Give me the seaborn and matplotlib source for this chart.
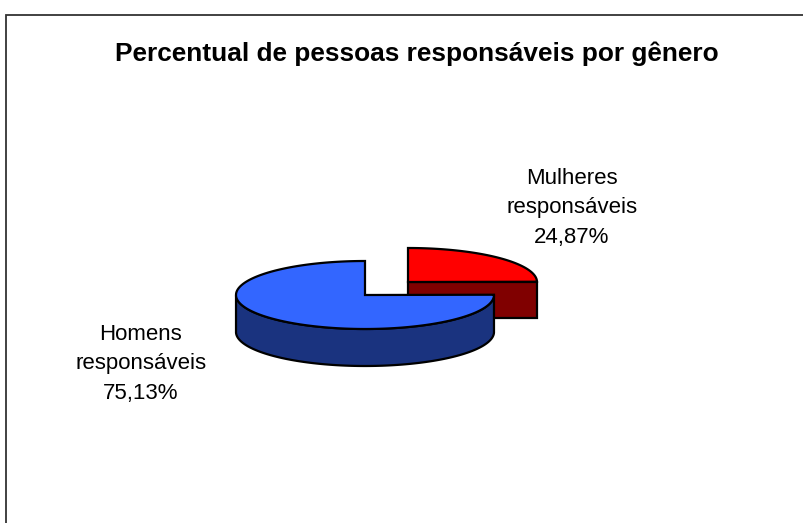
# pseudo 3D pie of responsible people by gender
import numpy as np
import seaborn as sns
import matplotlib.pyplot as plt

# data
categories = ['Mulheres\nresponsáveis', 'Homens\nresponsáveis']
percent = [24.87, 75.13]
value_labels = ['24,87%', '75,13%']
title = 'Percentual de pessoas responsáveis por gênero'

sns.set_theme(style='white')
plt.rcParams['font.family'] = ['Liberation Sans', 'DejaVu Sans']

top_colors = ['#FF0000', '#3366FF']
side_colors = ['#800000', '#1A337F']

fig = plt.figure(figsize=(8.04, 5.23), dpi=100, facecolor='white')
# the axes is the whole figure, in pixels
ax = fig.add_axes([0, 0, 1, 1])
ax.set_xlim(0, 804)
ax.set_ylim(523, 0)
ax.axis('off')

rx, ry, depth = 129, 34, 37
centers = [(408, 282), (365, 295)]


# points of a slice rim, angles in degrees, y of the picture goes down
def rim(cx, cy, start, sweep):
    t = np.radians(np.linspace(start, start - sweep, 200))
    return cx + rx * np.cos(t), cy - ry * np.sin(t)


def draw_outline(x, y, color):
    ax.fill(x, y, facecolor=color, edgecolor='black', linewidth=1.6, joinstyle='miter')


# slices start at twelve o'clock and go clockwise
sweeps = [p / sum(percent) * 360 for p in percent]
red_sweep, blue_sweep = sweeps
blue_start = 90 - red_sweep

# red slice: the flat cut face in front, then the top
cx, cy = centers[0]
x, y = rim(cx, cy, 90, red_sweep)
right = x[-1]
draw_outline([cx, right, right, cx], [cy, cy, cy + depth - 1, cy + depth - 1], side_colors[0])
draw_outline(np.r_[cx, x], np.r_[cy, y], top_colors[0])

# blue slice: the wall of the lower half, then the top
cx, cy = centers[1]
x, y = rim(cx, cy, blue_start, blue_sweep)
low = np.sin(np.radians(np.linspace(blue_start, blue_start - blue_sweep, 200))) <= 0.0
low_x, low_y = x[low], y[low]
draw_outline(np.r_[low_x, low_x[::-1]], np.r_[low_y, low_y[::-1] + depth], side_colors[1])
draw_outline(np.r_[cx, x], np.r_[cy, y], top_colors[1])

# labels
ax.text(572, 208, categories[0] + '\n' + value_labels[0], ha='center', va='center',
        fontsize=16, color='black', linespacing=1.53)
ax.text(141, 364, categories[1] + '\n' + value_labels[1], ha='center', va='center',
        fontsize=16, color='black', linespacing=1.53)
ax.text(417, 54, title, ha='center', va='center', fontsize=18.9, fontweight='bold', color='black')

# chart frame, cut off by the picture on the right and at the bottom
ax.plot([6, 6, 804], [523, 15, 15], color='#333333', linewidth=1.3, solid_joinstyle='miter')

fig.savefig('out.png', dpi=100, facecolor='white')
